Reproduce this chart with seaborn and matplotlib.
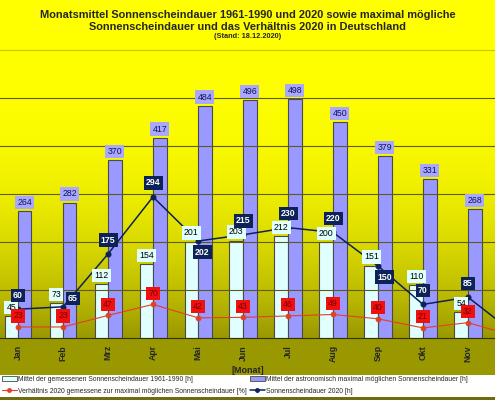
import numpy as np
import pandas as pd
import seaborn as sns
import matplotlib.pyplot as plt
from matplotlib.patches import Rectangle, Patch
from matplotlib.lines import Line2D

# Werte
monate = ["Jan", "Feb", "Mrz", "Apr", "Mai", "Jun", "Jul", "Aug", "Sep", "Okt", "Nov", "Dez"]
mittel_1961_1990 = [45, 73, 112, 154, 201, 203, 212, 200, 151, 110, 54, 38]
max_moeglich = [264, 282, 370, 417, 484, 496, 498, 450, 379, 331, 268, 246]
sonne_2020 = [60, 65, 175, 294, 202, 215, 230, 220, 150, 70, 85, 12]
verhaeltnis_2020 = [23, 23, 47, 70, 42, 43, 46, 49, 40, 21, 32, 5]

lbl_mittel = "Mittel der gemessenen Sonnenscheindauer 1961-1990 [h]"
lbl_max = "Mittel der astronomisch maximal möglichen Sonnenscheindauer [h]"
lbl_verh = "Verhältnis 2020 gemessene zur maximal möglichen Sonnenscheindauer [%]"
lbl_2020 = "Sonnenscheindauer 2020 [h]"

# label offsets in points for the 2020 line (layout only)
off_2020 = [(0, 10), (7, 6), (0, 10), (0, 10), (3, -8), (0, 10),
            (0, 10), (0, 10), (5, -8), (0, 10), (0, 10), (0, 10)]

# December lies beyond the right edge of the (cropped) chart, so it gets no labels
n_shown = 11

c_mittel = "#e0ffff"
c_max = "#9999ff"
c_navy = "#0d2257"
c_red = "#e04026"
olive = np.array([0x9a, 0x98, 0x00]) / 255

sns.set_style("white")
plt.rcParams["font.family"] = ["Liberation Sans", "DejaVu Sans"]

fig = plt.figure(figsize=(4.95, 4.0), dpi=100)
fig.patch.set_facecolor("#ffff00")

# olive strip under the axis and white legend area
fig.add_artist(Rectangle((0, 25 / 400), 1, (62 - 25) / 400, transform=fig.transFigure,
                         facecolor=olive, edgecolor="none", zorder=0))
fig.add_artist(Rectangle((0, 3 / 400), 1, 22 / 400, transform=fig.transFigure,
                         facecolor="white", edgecolor="none", zorder=0))
fig.add_artist(Rectangle((0, 0), 1, 3 / 400, transform=fig.transFigure,
                         facecolor="#6e6b10", edgecolor="none", zorder=0))

ax = fig.add_axes([-4.5 / 495, 62 / 400, 540 / 495, 288 / 400])

# gradient background
t = np.linspace(0, 1, 256) ** 2.5
yellow = np.array([1.0, 1.0, 0.0])
grad = (yellow[None, :] * (1 - t[:, None]) + olive[None, :] * t[:, None])[:, None, :]
ax.imshow(grad, extent=[-0.5, 11.5, 0, 600], aspect="auto", zorder=0, origin="upper")

bars = pd.DataFrame({
    "Monat": monate * 2,
    "h": mittel_1961_1990 + max_moeglich,
    "Serie": [lbl_mittel] * 12 + [lbl_max] * 12,
})
sns.barplot(data=bars, x="Monat", y="h", hue="Serie", hue_order=[lbl_mittel, lbl_max],
            palette=[c_mittel, c_max], width=0.6, edgecolor="#4a4a4a", linewidth=0.8,
            saturation=1, legend=False, ax=ax, zorder=2)

sns.pointplot(x=monate, y=verhaeltnis_2020, color=c_red, markers="o", markersize=3.5,
              linewidth=0.8, errorbar=None, ax=ax, zorder=4)
sns.pointplot(x=monate, y=sonne_2020, color=c_navy, markers="o", markersize=3.5,
              linewidth=1.1, errorbar=None, ax=ax, zorder=5)

# bar labels
ax.bar_label(ax.containers[0], labels=[str(v) for v in mittel_1961_1990[:n_shown]] + [""],
             padding=3, fontsize=6.3, color="black",
             bbox=dict(boxstyle="square,pad=0.25", facecolor=c_mittel, edgecolor="none"), zorder=6)
ax.bar_label(ax.containers[1], labels=[str(v) for v in max_moeglich[:n_shown]] + [""],
             padding=3, fontsize=6.3, color="#10105a",
             bbox=dict(boxstyle="square,pad=0.25", facecolor="#a8a8ff", edgecolor="none"), zorder=6)

for i in range(n_shown):
    v, p = sonne_2020[i], verhaeltnis_2020[i]
    ax.annotate(str(v), (i, v), xytext=off_2020[i], textcoords="offset points",
                ha="center", va="center", fontsize=6.3, color="white", fontweight="bold",
                bbox=dict(boxstyle="square,pad=0.25", facecolor=c_navy, edgecolor="none"),
                zorder=7, annotation_clip=False)
    ax.annotate(str(p), (i, p), xytext=(0, 8), textcoords="offset points",
                ha="center", va="center", fontsize=6.3, color="#7a0000",
                bbox=dict(boxstyle="square,pad=0.25", facecolor="#f01010", edgecolor="none"),
                zorder=7, annotation_clip=False)

ax.set_xlim(-0.5, 11.5)
ax.set_ylim(0, 600)
ax.set_yticks(range(100, 600, 100))
ax.yaxis.grid(True, color="#5e5a20", linewidth=0.8)
ax.set_axisbelow(False)
for gl in ax.get_ygridlines():
    gl.set_zorder(1)
ax.set_yticklabels([])
ax.tick_params(axis="y", length=0)

ax.set_xticks(range(n_shown))
ax.set_xticklabels(monate[:n_shown], rotation=90, fontsize=6.3, fontweight="bold")
ax.tick_params(axis="x", length=0, pad=5)
ax.set_xticks(np.arange(-0.5, 12, 1), minor=True)
ax.tick_params(axis="x", which="minor", length=3, color="#3a3a00", direction="out")
ax.set_xlabel("[Monat]", fontsize=6.5, fontweight="bold", labelpad=0)
ax.xaxis.set_label_coords((248 + 4.5) / 540, -28 / 288)
ax.set_ylabel("")

ax.spines["top"].set_color("#c8c800")
ax.spines["bottom"].set_color("#333300")
ax.spines["left"].set_visible(False)
ax.spines["right"].set_visible(False)

# titles
fig.text(0.5, 1 - 15 / 400, "Monatsmittel Sonnenscheindauer 1961-1990 und 2020 sowie maximal mögliche",
         ha="center", va="center", fontsize=7.9, fontweight="bold")
fig.text(0.5, 1 - 27 / 400, "Sonnenscheindauer und das Verhältnis 2020 in Deutschland",
         ha="center", va="center", fontsize=7.9, fontweight="bold")
fig.text(0.5, 1 - 37 / 400, "(Stand: 18.12.2020)", ha="center", va="center", fontsize=5.3,
         fontweight="bold")

# legend
h_mittel = Patch(facecolor=c_mittel, edgecolor="#4a4a4a", linewidth=0.6)
h_max = Patch(facecolor=c_max, edgecolor="#4a4a4a", linewidth=0.6)
h_verh = Line2D([], [], color=c_red, marker="o", markersize=2.5, linewidth=0.8)
h_2020 = Line2D([], [], color=c_navy, marker="o", markersize=2.5, linewidth=1.1)
leg_kw = dict(frameon=False, fontsize=4.9, handlelength=2.2, handleheight=0.6,
              handletextpad=0.1, labelspacing=0.7, borderaxespad=0, borderpad=0)
fig.legend([h_mittel, h_verh], [lbl_mittel, lbl_verh], loc="upper left",
           bbox_to_anchor=(2 / 495, 1 - 376 / 400), **leg_kw)
fig.legend([h_max, h_2020], [lbl_max, lbl_2020], loc="upper left",
           bbox_to_anchor=(250 / 495, 1 - 376 / 400), **leg_kw)

fig.savefig("out.png", dpi=100, facecolor=fig.get_facecolor())
